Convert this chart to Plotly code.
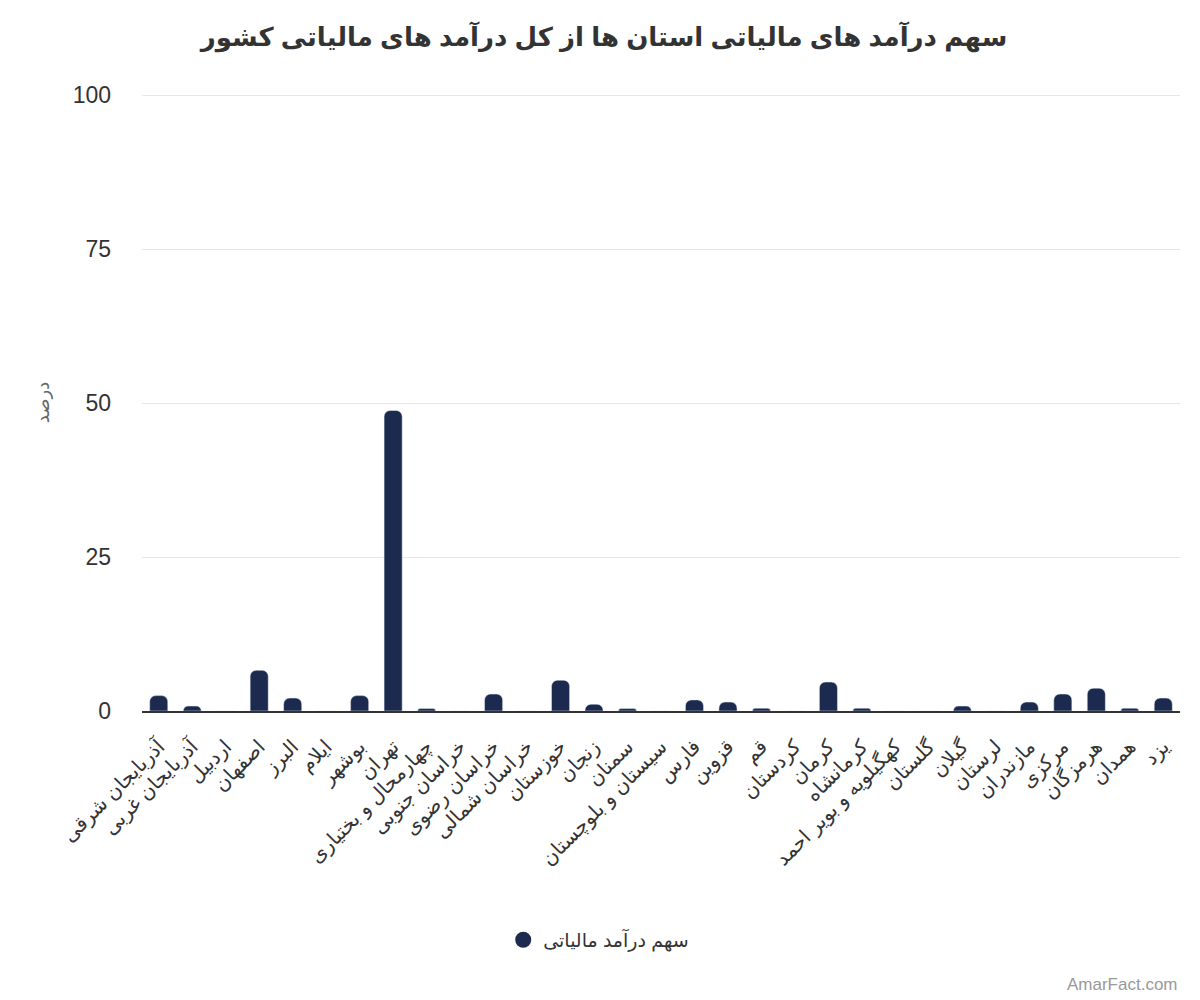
import plotly.graph_objects as go

# provinces and their share (%) of the country's tax revenue
provinces = [
    "آذربایجان شرقی", "آذربایجان غربی", "اردبیل", "اصفهان", "البرز", "ایلام",
    "بوشهر", "تهران", "چهارمحال و بختیاری", "خراسان جنوبی", "خراسان رضوی",
    "خراسان شمالی", "خوزستان", "زنجان", "سمنان", "سیستان و بلوچستان", "فارس",
    "قزوین", "قم", "کردستان", "کرمان", "کرمانشاه", "کهگیلویه و بویر احمد",
    "گلستان", "گیلان", "لرستان", "مازندران", "مرکزی", "هرمزگان", "همدان", "یزد",
]
share = [
    2.5, 0.8, 0, 6.6, 2.1, 0,
    2.5, 48.8, 0.4, 0, 2.75,
    0, 5.0, 1.1, 0.4, 0, 1.8,
    1.45, 0.45, 0, 4.7, 0.45, 0,
    0, 0.8, 0, 1.45, 2.75, 3.7, 0.45, 2.1,
]
y_ticks = [0, 25, 50, 75, 100]

bar_color = "#1b2a4e"
font_family = "Arial, DejaVu Sans, sans-serif"

fig = go.Figure()
fig.add_trace(go.Bar(
    x=provinces, y=share, marker_color=bar_color, marker_cornerradius=6,
    showlegend=False, name="سهم درآمد مالیاتی",
))
# dummy trace so the legend shows a round symbol
fig.add_trace(go.Scatter(
    x=[None], y=[None], mode="markers", name="سهم درآمد مالیاتی",
    marker=dict(color=bar_color, size=24, symbol="circle"),
))

# the page body adds an 8px margin, so the figure is a little smaller
fig.update_layout(
    width=1192, height=992,
    paper_bgcolor="white", plot_bgcolor="white",
    margin=dict(l=134, r=20, t=86, b=289, autoexpand=False),
    font=dict(family=font_family, color="#333333"),
    bargap=0.46,
    title=dict(
        text="<b>سهم درآمد های مالیاتی استان ها از کل درآمد های مالیاتی کشور</b>",
        x=0.5, xanchor="center", y=0.971, yanchor="middle",
        font=dict(size=26, color="#333333"),
    ),
    legend=dict(
        orientation="h", x=0.44, xanchor="center",
        y=-0.371, yanchor="middle",
        font=dict(size=19, color="#333333"), itemsizing="trace",
    ),
    annotations=[dict(
        text="AmarFact.com", xref="paper", yref="paper",
        x=1.0, xanchor="right", y=-0.444, yanchor="middle", showarrow=False,
        font=dict(size=17, color="#999999"),
    )],
)

fig.update_xaxes(
    tickangle=-45, tickfont=dict(size=20, color="#333333"),
    showline=True, linecolor="#333333", linewidth=2,
    showgrid=False, ticks="", fixedrange=True, automargin=False,
    ticklabelstandoff=14,
)
fig.update_yaxes(
    range=[0, 100.2], tickvals=y_ticks, tickfont=dict(size=23, color="#333333"),
    showgrid=True, gridcolor="#e6e6e6", gridwidth=1, zeroline=False,
    ticklabelstandoff=30, automargin=False,
    title=dict(text="درصد", font=dict(size=18, color="#666666"), standoff=18),
)

fig.write_html("out.html")
